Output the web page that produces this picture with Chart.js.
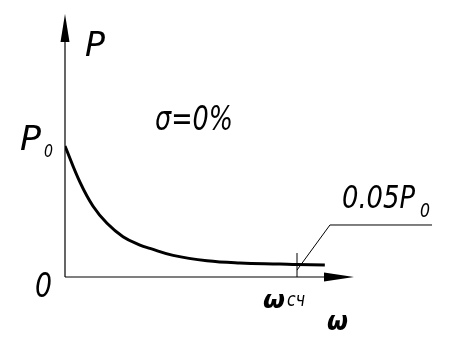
<!DOCTYPE html>
<html>
<head>
    <title>P(ω)</title>
    <script src="https://cdn.jsdelivr.net/npm/chart.js"></script>
    <style>
  body {
    margin: 0;
    padding: 0;
    background-color: #fff;
}
</style>
</head>
<body>
    <canvas id="powerChart" width="454" height="354"></canvas>

    <script>
        // curve (ω relative to ωсч, P relative to P0)
        const omega = [0, 0.065, 0.121, 0.181, 0.25, 0.323, 0.366, 0.466, 0.612, 0.754, 0.927, 1.0, 1.12];
        const power = [1.0, 0.722, 0.54, 0.41, 0.308, 0.244, 0.218, 0.165, 0.124, 0.107, 0.099, 0.095, 0.092];

        // cut-off mark at ωсч and the leader line to the 0.05P0 note
        const markX = [1.0, 1.0];
        const markY = [0, 0.183];
        const leaderX = [1.0, 1.142, 1.582];
        const leaderY = [0.053, 0.397, 0.397];

        const xMax = 1.25;
        const yMax = 2.0;

        function points(xs, ys) {
            return xs.map((x, i) => ({ x: x, y: ys[i] }));
        }

        function drawText(ctx, text, left, baseline, size, width, weight) {
            ctx.save();
            ctx.font = 'italic ' + (weight || 'normal') + ' ' + size + 'px "DejaVu Sans"';
            const w = ctx.measureText(text).width;
            ctx.translate(left, baseline);
            ctx.scale(width / w, 1);
            ctx.fillText(text, 0, 0);
            ctx.restore();
        }

        // axes with arrows and the hand-lettered labels
        const sketchPlugin = {
            id: 'sketch',
            afterDraw(chart) {
                const ctx = chart.ctx;
                const x = chart.scales.x, y = chart.scales.y;
                const x0 = x.getPixelForValue(0), y0 = y.getPixelForValue(0);
                const xEnd = x.getPixelForValue(xMax), yEnd = y.getPixelForValue(yMax);

                ctx.save();
                ctx.strokeStyle = '#000';
                ctx.fillStyle = '#000';
                ctx.lineWidth = 1.2;
                ctx.beginPath();
                ctx.moveTo(x0, y0);
                ctx.lineTo(x0, yEnd + 20);
                ctx.moveTo(x0, y0);
                ctx.lineTo(xEnd - 20, y0);
                ctx.stroke();

                // arrow heads
                ctx.beginPath();
                ctx.moveTo(x0, yEnd - 1);
                ctx.lineTo(x0 - 4.5, yEnd + 27);
                ctx.lineTo(x0 + 4.5, yEnd + 27);
                ctx.closePath();
                ctx.fill();
                ctx.beginPath();
                ctx.moveTo(xEnd - 1, y0);
                ctx.lineTo(xEnd - 31, y0 - 4.5);
                ctx.lineTo(xEnd - 31, y0 + 4.5);
                ctx.closePath();
                ctx.fill();

                drawText(ctx, 'P', 85, 56, 33, 20);
                drawText(ctx, 'P', 20, 150, 33, 21);
                drawText(ctx, '0', 44, 157, 17, 9);
                drawText(ctx, '0', 35, 297, 33, 17);
                drawText(ctx, 'σ=0%', 155, 130, 33, 78);
                drawText(ctx, '0.05P', 342, 208, 32, 73);
                drawText(ctx, '0', 420, 217, 19, 10);
                drawText(ctx, 'ω', 263, 308, 25, 22, 'bold');
                drawText(ctx, 'сч', 287, 306, 20, 18);
                drawText(ctx, 'ω', 327, 330, 27, 21, 'bold');
                ctx.restore();
            }
        };

        new Chart(document.getElementById('powerChart'), {
            type: 'line',
            data: {
                datasets: [
                    {
                        data: points(omega, power),
                        borderColor: '#000',
                        borderWidth: 3,
                        pointRadius: 0,
                        tension: 0.4
                    },
                    {
                        data: points(markX, markY),
                        borderColor: '#000',
                        borderWidth: 1,
                        pointRadius: 0
                    },
                    {
                        data: points(leaderX, leaderY),
                        borderColor: '#000',
                        borderWidth: 1,
                        pointRadius: 0,
                        clip: false
                    }
                ]
            },
            options: {
                responsive: false,
                animation: false,
                layout: { padding: { left: 65, right: 99, top: 15, bottom: 77 } },
                plugins: { legend: { display: false }, tooltip: { enabled: false } },
                scales: {
                    x: { type: 'linear', min: 0, max: xMax, display: false },
                    y: { min: 0, max: yMax, display: false }
                }
            },
            plugins: [sketchPlugin]
        });
    </script>
</body>
</html>
